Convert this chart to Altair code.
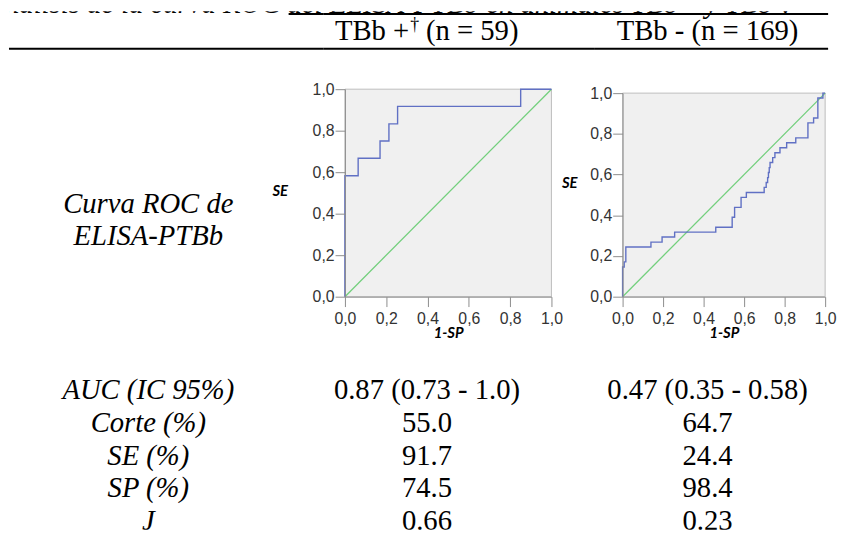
import altair as alt
import pandas as pd

# ---------------- data ----------------
title_text = "Tabla 3. Análisis de la curva ROC del ELISA-PTBb en animales TBb+ y TBb-."
header_pos_parts = ["TBb +", "\u2020", "(n = 59)"]
header_neg = "TBb - (n = 169)"
roc_label_lines = ["Curva ROC de", "ELISA-PTBb"]

row_labels = ["AUC (IC 95%)", "Corte (%)", "SE (%)", "SP (%)", "J"]
tbb_pos_vals = ["0.87 (0.73 - 1.0)", "55.0", "91.7", "74.5", "0.66"]
tbb_neg_vals = ["0.47 (0.35 - 0.58)", "64.7", "24.4", "98.4", "0.23"]

# ROC curve TBb+ (1-SP, SE)
roc_pos_fpr = [0.0, 0.0, 0.064, 0.064, 0.170, 0.170, 0.213, 0.213, 0.255, 0.255, 0.851, 0.851, 1.0]
roc_pos_tpr = [0.0, 0.583, 0.583, 0.667, 0.667, 0.750, 0.750, 0.833, 0.833, 0.917, 0.917, 1.0, 1.0]

# ROC curve TBb- (1-SP, SE)
roc_neg_fpr = [0.0, 0.0, 0.008, 0.008, 0.016, 0.016, 0.140, 0.140, 0.195, 0.195,
               0.257, 0.257, 0.460, 0.460, 0.541, 0.541, 0.553, 0.553, 0.585, 0.585,
               0.611, 0.611, 0.699, 0.699, 0.709, 0.709, 0.716, 0.716, 0.720, 0.720,
               0.724, 0.724, 0.728, 0.728, 0.741, 0.741, 0.752, 0.752, 0.777, 0.777,
               0.810, 0.810, 0.855, 0.855, 0.915, 0.915, 0.943, 0.943, 0.964, 0.964,
               0.989, 0.989, 1.0]
roc_neg_tpr = [0.0, 0.146, 0.146, 0.171, 0.171, 0.244, 0.244, 0.268, 0.268, 0.293,
               0.293, 0.317, 0.317, 0.341, 0.341, 0.390, 0.390, 0.439, 0.439, 0.488,
               0.488, 0.512, 0.512, 0.537, 0.537, 0.561, 0.561, 0.585, 0.585, 0.610,
               0.610, 0.634, 0.634, 0.659, 0.659, 0.683, 0.683, 0.707, 0.707, 0.732,
               0.732, 0.756, 0.756, 0.780, 0.780, 0.854, 0.854, 0.878, 0.878, 0.976,
               0.976, 1.0, 1.0]

diag_x = [0.0, 1.0]
diag_y = [0.0, 1.0]
frame_lo = [0.0]
frame_hi = [1.0]
tick_values = [0.0, 0.2, 0.4, 0.6, 0.8, 1.0]

SERIF = "Liberation Serif"
SANS = "Liberation Sans"
FS = 29
H = 525        # full height of every column
PLOT_BOTTOM = 289

one = pd.DataFrame({"k": [0]})
label_expr = "replace(format(datum.value, '.1f'), '.', ',')"
row_scale = alt.Scale(type="point", domain=row_labels, range=[393, 525], padding=0)


def decorations(offset, width):
    """Title slice and the two horizontal rules of the table for one column."""
    title = alt.Chart(one).mark_text(
        font=SERIF, fontSize=FS, fontStyle="italic", align="right",
        baseline="alphabetic", clip=True, color="black"
    ).encode(x=alt.value(790 - offset), y=alt.value(2), text=alt.value(title_text))
    top_start = max(283 - offset, 0)
    r1 = alt.Chart(one).mark_rule(color="black", strokeWidth=2).encode(
        x=alt.value(top_start), x2=alt.value(width), y=alt.value(3))
    r2 = alt.Chart(one).mark_rule(color="black", strokeWidth=2).encode(
        x=alt.value(0), x2=alt.value(width), y=alt.value(38))
    return [title, r1, r2]


def header_text(text, x, align="center", size=FS, y=29):
    return alt.Chart(one).mark_text(
        font=SERIF, fontSize=size, baseline="alphabetic", align=align, color="black"
    ).encode(x=alt.value(x), y=alt.value(y), text=alt.value(text))


def stats_layer(texts, cx, italic):
    df = pd.DataFrame({"row": row_labels, "text": texts})
    return alt.Chart(df).mark_text(
        font=SERIF, fontSize=FS, fontStyle="italic" if italic else "normal",
        baseline="alphabetic", color="black", clip=True
    ).encode(x=alt.value(cx),
             y=alt.Y("row:N", scale=row_scale, axis=None),
             text="text:N")


def roc_plot(fpr, tpr, x_left, pw, y_top, se_x, se_y):
    xs = alt.Scale(domain=[0, 1], nice=False, zero=False, range=[x_left, x_left + pw])
    ys = alt.Scale(domain=[0, 1], nice=False, zero=False, range=[PLOT_BOTTOM, y_top])
    x_axis = alt.Axis(values=tick_values, labelExpr=label_expr, title="1-SP",
                      offset=PLOT_BOTTOM - H,
                      titleFont="Lato", titleFontWeight="bold", titleFontStyle="italic",
                      titleFontSize=15, titleColor="black", titleX=x_left + pw / 2, titleY=36,
                      titleAlign="center", titleBaseline="middle",
                      labelFont=SANS, labelFontSize=16, labelColor="#333333",
                      labelPadding=4, labelFlush=False, labelOverlap=False,
                      tickSize=10, tickColor="#8c8c8c", domainColor="#8c8c8c",
                      grid=False, zindex=1)
    y_axis = alt.Axis(values=tick_values, labelExpr=label_expr, title="SE",
                      offset=-x_left,
                      titleFont="Lato", titleFontWeight="bold", titleFontStyle="italic",
                      titleFontSize=15, titleColor="black", titleAngle=0,
                      titleX=se_x, titleY=se_y, titleAlign="center", titleBaseline="middle",
                      labelFont=SANS, labelFontSize=16, labelColor="#333333",
                      labelPadding=1, labelOverlap=False, labelBaseline="middle",
                      tickSize=10, tickColor="#8c8c8c", domainColor="#8c8c8c",
                      grid=False, zindex=1)
    frame_df = pd.DataFrame({"x0": frame_lo, "x1": frame_hi, "y0": frame_lo, "y1": frame_hi})
    bg = alt.Chart(frame_df).mark_rect(fill="#f0f0f0", stroke="#bdbdbd", strokeWidth=1).encode(
        x=alt.X("x0:Q", scale=xs, axis=x_axis), x2="x1:Q",
        y=alt.Y("y0:Q", scale=ys, axis=y_axis), y2="y1:Q")
    diag_df = pd.DataFrame({"x0": diag_x, "y0": diag_y})
    diag = alt.Chart(diag_df).mark_line(color="#72cf7c", strokeWidth=1.3).encode(
        x=alt.X("x0:Q", scale=xs, axis=x_axis), y=alt.Y("y0:Q", scale=ys, axis=y_axis))
    curve_df = pd.DataFrame({"x0": fpr, "y0": tpr, "i": list(range(len(fpr)))})
    curve = alt.Chart(curve_df).mark_line(color="#6070c4", strokeWidth=1.4).encode(
        x=alt.X("x0:Q", scale=xs, axis=x_axis), y=alt.Y("y0:Q", scale=ys, axis=y_axis),
        order="i:Q")
    return alt.layer(bg, diag, curve)


# ---------------- column widths ----------------
W_A, W_B, W_C = 318, 275, 236

# ---------------- column A: row labels ----------------
lab_df = pd.DataFrame({"line": roc_label_lines})
roc_label = alt.Chart(lab_df).mark_text(
    font=SERIF, fontSize=FS, fontStyle="italic", baseline="alphabetic", color="black"
).encode(
    x=alt.value(141),
    y=alt.Y("line:N", scale=alt.Scale(type="point", domain=roc_label_lines, range=[204, 237], padding=0), axis=None),
    text="line:N",
)
col_a = alt.layer(*decorations(0, W_A), roc_label, stats_layer(row_labels, 141, True)).resolve_scale(
    y="independent").properties(width=W_A, height=H)

# ---------------- column B: TBb+ ----------------
col_b = alt.layer(
    *decorations(W_A, W_B),
    header_text(header_pos_parts[0], 87, align="right"),
    header_text(header_pos_parts[1], 88, align="left", size=18, y=19),
    header_text(header_pos_parts[2], 104, align="left"),
    roc_plot(roc_pos_fpr, roc_pos_tpr, 22, 209, 79, -66, 182),
    stats_layer(tbb_pos_vals, 105, False)
).resolve_scale(y="independent").properties(width=W_B, height=H)

# ---------------- column C: TBb- ----------------
col_c = alt.layer(
    *decorations(W_A + W_B, W_C), header_text(header_neg, 114),
    roc_plot(roc_neg_fpr, roc_neg_tpr, 28, 205, 83, -54, 173),
    stats_layer(tbb_neg_vals, 114, False)
).resolve_scale(y="independent").properties(width=W_C, height=H)

chart = alt.hconcat(col_a, col_b, col_c, spacing=0, bounds="flush").properties(
    padding=0
).configure_view(stroke=None)

chart.save("out.html", embed_options={"renderer": "svg", "actions": False})
